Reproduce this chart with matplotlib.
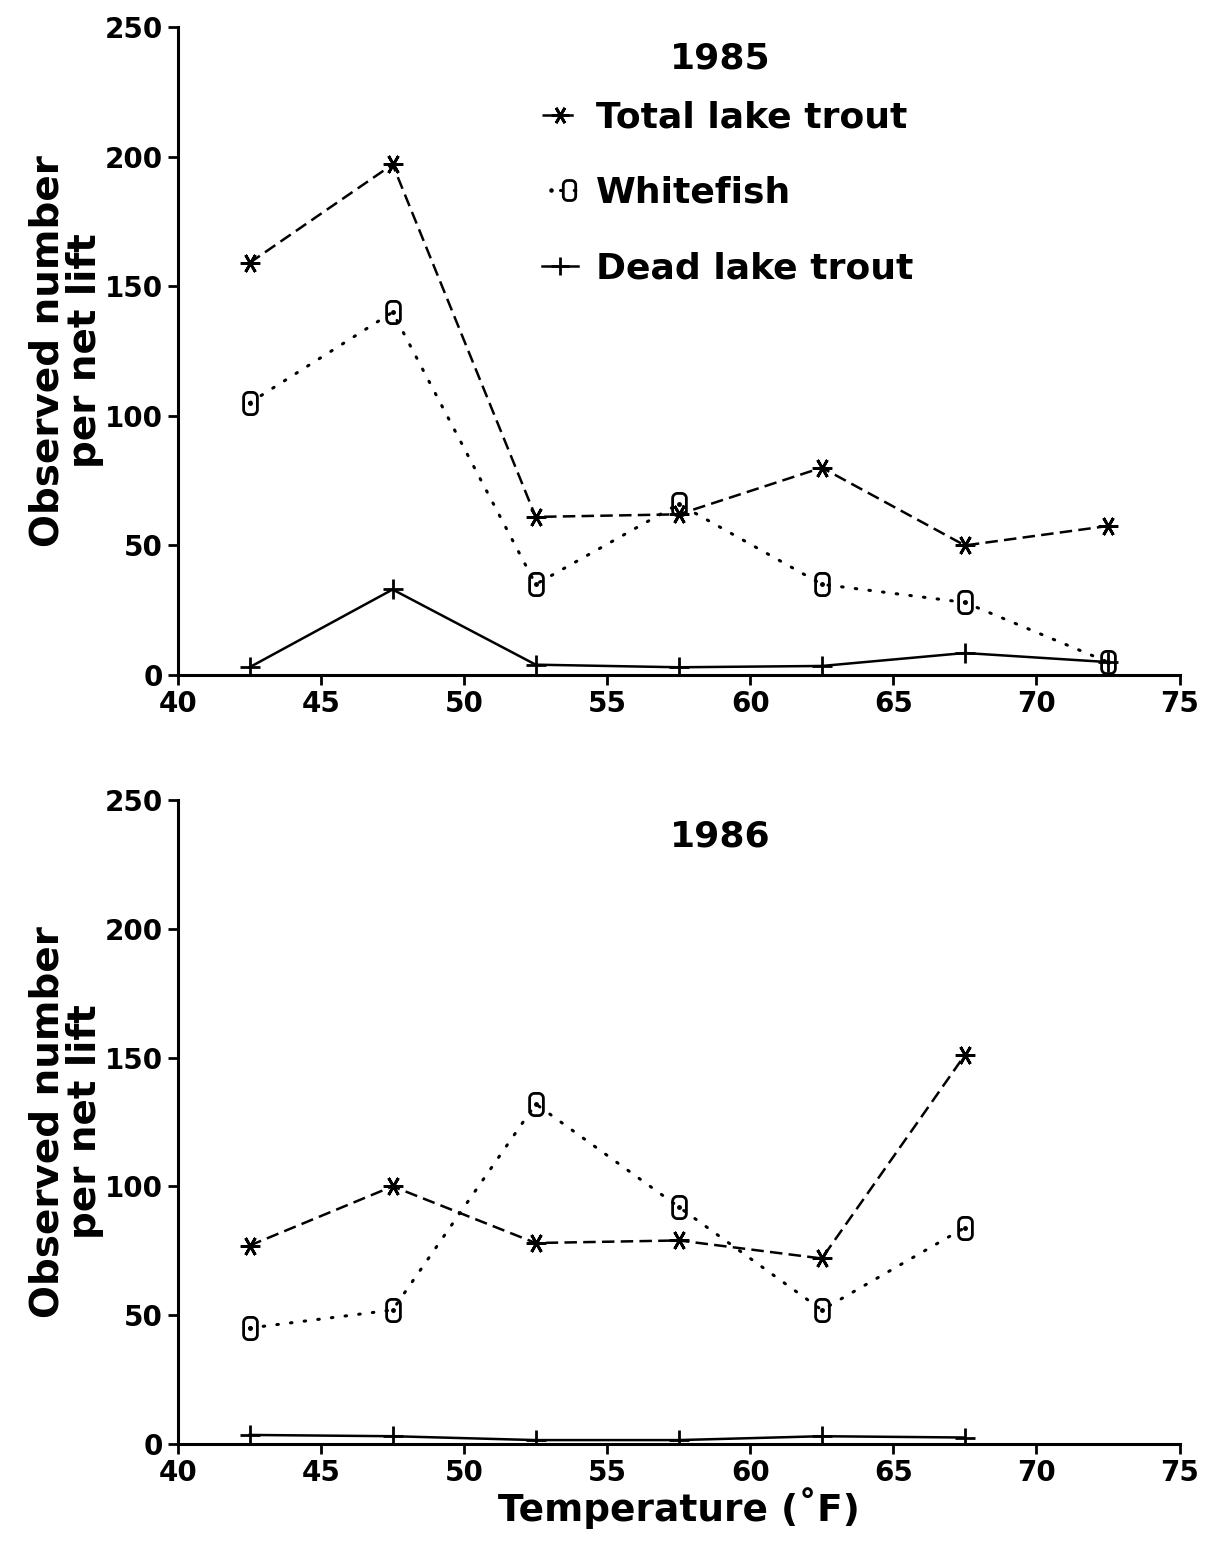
import matplotlib
matplotlib.use("Agg")
import matplotlib.pyplot as plt
import numpy as np
from matplotlib.path import Path
from matplotlib.legend_handler import HandlerTuple

temps_1985 = [42.5, 47.5, 52.5, 57.5, 62.5, 67.5, 72.5]
total_1985 = [159, 197, 61, 62, 80, 50, 57.5]
white_1985 = [105, 140, 35, 66, 35, 28, 5]
dead_1985 = [3, 33, 4, 3, 3.5, 8.5, 5]

temps_1986 = [42.5, 47.5, 52.5, 57.5, 62.5, 67.5]
total_1986 = [77, 100, 78, 79, 72, 151]
white_1986 = [45, 52, 132, 92, 52, 84]
dead_1986 = [3.5, 3, 1.5, 1.5, 3, 2.5]

xticks = [40, 45, 50, 55, 60, 65, 70, 75]
yticks = [0, 50, 100, 150, 200, 250]
labels = ["Total lake trout", "Whitefish", "Dead lake trout"]

plt.rcParams['font.family'] = ['DejaVu Sans']

# rounded-rectangle "0" marker
def rounded_rect(w=0.62, h=1.0, r=0.22, n=8):
    pts = []
    corners = [(w/2 - r, h/2 - r, 0), (-w/2 + r, h/2 - r, 90),
               (-w/2 + r, -h/2 + r, 180), (w/2 - r, -h/2 + r, 270)]
    for cx, cy, a0 in corners:
        for t in np.linspace(a0, a0 + 90, n):
            pts.append((cx + r*np.cos(np.radians(t)), cy + r*np.sin(np.radians(t))))
    pts.append(pts[0])
    codes = [Path.MOVETO] + [Path.LINETO]*(len(pts)-2) + [Path.CLOSEPOLY]
    return Path(pts, codes)

zero_marker = rounded_rect()
star_marker = (6, 2, 90)

fig = plt.figure(figsize=(12.11, 15.44), dpi=100)
ax1 = fig.add_axes([0.147, 0.5628, 0.827, 0.4197])
ax2 = fig.add_axes([0.147, 0.0648, 0.827, 0.4171])

def draw(ax, t, tot, wh, dead):
    l1, = ax.plot(t, tot, color='black', linestyle=(0, (5, 2.5)), linewidth=1.8,
                  marker=star_marker, markersize=14, markeredgewidth=2)
    l2b, = ax.plot(t, wh, linestyle='none', marker='o', markersize=2.5,
                   color='black')
    l2, = ax.plot(t, wh, color='black', linestyle=(0, (0.5, 4)), linewidth=2.2,
                  dash_capstyle='round',
                  marker=zero_marker, markersize=16, markeredgewidth=2,
                  markerfacecolor='none')
    l3, = ax.plot(t, dead, color='black', linestyle='-', linewidth=1.8,
                  marker='+', markersize=14, markeredgewidth=2)
    ax.set_xlim(40, 75)
    ax.set_ylim(0, 250)
    ax.set_xticks(xticks)
    ax.set_yticks(yticks)
    for s in ['top', 'right']:
        ax.spines[s].set_visible(False)
    for s in ['left', 'bottom']:
        ax.spines[s].set_linewidth(2.2)
    ax.tick_params(axis='both', which='major', direction='out', length=7,
                   width=2, labelsize=20, pad=4)
    for lab in ax.get_xticklabels() + ax.get_yticklabels():
        lab.set_fontweight('bold')
    ax.set_ylabel("Observed number\nper net lift", fontsize=28, labelpad=0,
                  linespacing=1.0, fontweight='bold')
    return l1, (l2b, l2), l3

h1 = draw(ax1, temps_1985, total_1985, white_1985, dead_1985)
draw(ax2, temps_1986, total_1986, white_1986, dead_1986)

ax1.text(0.541, 0.952, "1985", transform=ax1.transAxes, fontsize=26,
         ha='center', va='center', fontweight='bold')
ax2.text(0.541, 0.943, "1986", transform=ax2.transAxes, fontsize=26,
         ha='center', va='center', fontweight='bold')

leg = ax1.legend(h1, labels, handler_map={tuple: HandlerTuple(ndivide=None, pad=0)},
                 loc='upper left', bbox_to_anchor=(0.345, 0.915), frameon=False,
                 prop={'size': 26, 'weight': 'bold'}, handlelength=1.0,
                 handletextpad=0.5, labelspacing=1.15, borderpad=0,
                 markerscale=0.9)

ax2.set_xlabel("Temperature (˚F)", fontsize=27, labelpad=0, fontweight='bold')

fig.savefig("out.png", dpi=100)
